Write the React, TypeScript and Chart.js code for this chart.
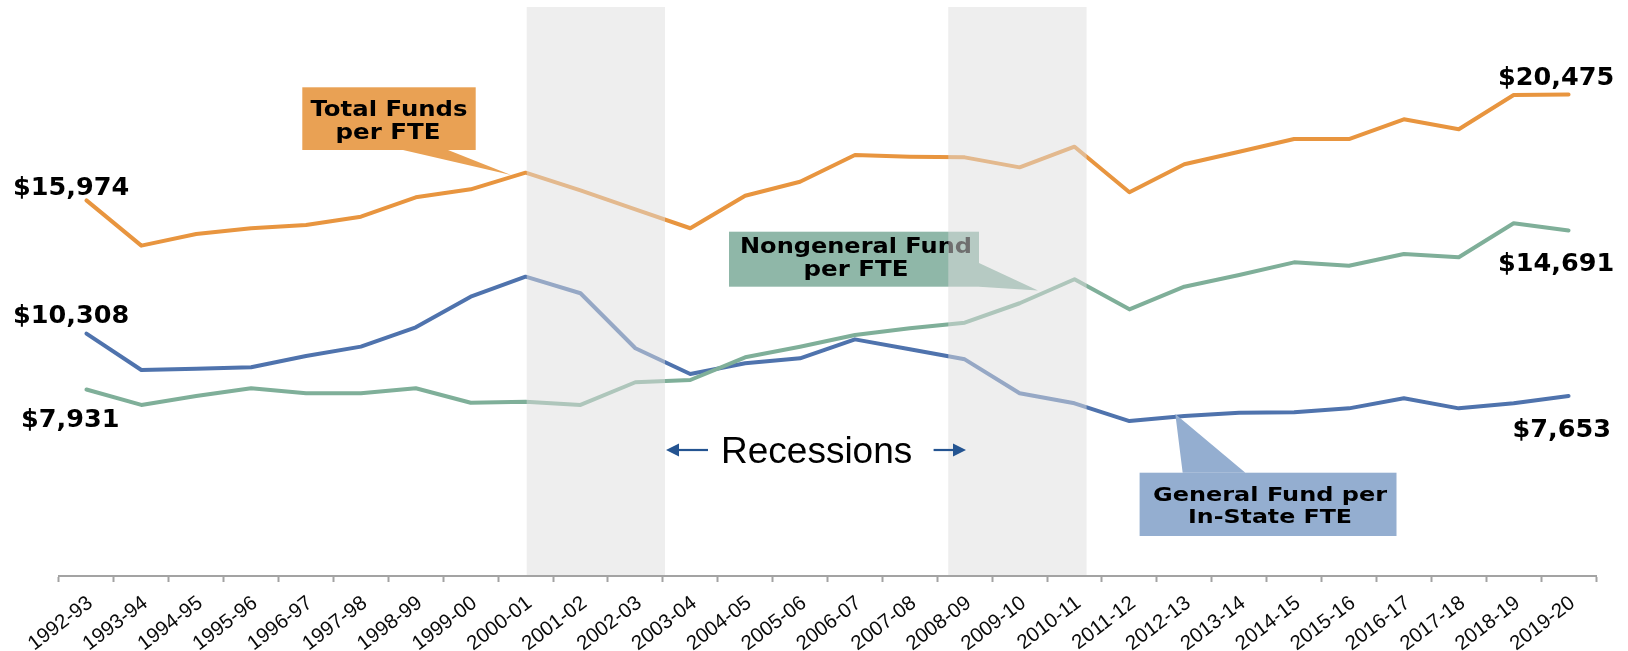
import React, { useEffect, useRef } from "react";
import { Chart, registerables } from "chart.js";

Chart.register(...registerables);

const categories = [
  "1992-93", "1993-94", "1994-95", "1995-96", "1996-97", "1997-98", "1998-99",
  "1999-00", "2000-01", "2001-02", "2002-03", "2003-04", "2004-05", "2005-06",
  "2006-07", "2007-08", "2008-09", "2009-10", "2010-11", "2011-12", "2012-13",
  "2013-14", "2014-15", "2015-16", "2016-17", "2017-18", "2018-19", "2019-20",
];

const totalFundsPerFTE = [
  15974, 14050, 14545, 14790, 14930, 15280, 16105, 16445, 17155, 16400,
  15595, 14790, 16175, 16770, 17905, 17835, 17805, 17380, 18260, 16320,
  17510, 18045, 18585, 18585, 19425, 19000, 20455, 20475,
];

const nongeneralFundPerFTE = [
  7931, 7275, 7655, 7985, 7770, 7770, 7985, 7370, 7415, 7275,
  8240, 8335, 9300, 9750, 10250, 10535, 10775, 11600, 12620, 11340,
  12305, 12800, 13340, 13195, 13695, 13555, 15000, 14691,
];

const generalFundPerInStateFTE = [
  10308, 8760, 8815, 8875, 9355, 9755, 10575, 11880, 12730, 12025,
  9685, 8590, 9045, 9260, 10065, 9640, 9215, 7770, 7345, 6590,
  6805, 6945, 6960, 7130, 7560, 7130, 7345, 7653,
];

// recession shading, in category-index units (index i = centre of category i)
const recessionBands: [number, number][] = [
  [8.02, 10.54],
  [15.7, 18.22],
];

const seriesNames = ["Total Funds per FTE", "Nongeneral Fund per FTE", "General Fund per In-State FTE"];
const recessionText = "Recessions";

const Y_MIN = 0;
const Y_MAX = 24200;

const COLORS = {
  total: "#E8953F",
  nongeneral: "#7FAF99",
  general: "#4F73AD",
  totalBox: "#E9A154",
  nongeneralBox: "#8FB7A8",
  generalBox: "#94AED0",
  arrow: "#245491",
};

const BOLD_FONT = "'DejaVu Sans', 'Noto Sans', sans-serif";
const SANS_FONT = "'Liberation Sans', Arial, sans-serif";

function money(v: number) {
  return "$" + v.toLocaleString("en-US");
}

function drawText(
  ctx: CanvasRenderingContext2D,
  text: string,
  x: number,
  baseline: number,
  font: string,
  align: CanvasTextAlign,
  targetWidth?: number
) {
  ctx.save();
  ctx.font = font;
  ctx.textAlign = align;
  ctx.textBaseline = "alphabetic";
  const w = ctx.measureText(text).width;
  const sx = targetWidth ? targetWidth / w : 1;
  ctx.translate(x, baseline);
  ctx.scale(sx, 1);
  ctx.fillStyle = "#000";
  ctx.fillText(text, 0, 0);
  ctx.restore();
}

function drawCallout(
  ctx: CanvasRenderingContext2D,
  rect: [number, number, number, number],
  tail: [number, number][],
  fill: string,
  lines: { text: string; cx: number; baseline: number; width: number }[],
  fontSize: number
) {
  ctx.save();
  ctx.fillStyle = fill;
  ctx.fillRect(rect[0], rect[1], rect[2], rect[3]);
  ctx.beginPath();
  ctx.moveTo(tail[0][0], tail[0][1]);
  for (let i = 1; i < tail.length; i++) ctx.lineTo(tail[i][0], tail[i][1]);
  ctx.closePath();
  ctx.fill();
  ctx.restore();
  for (const l of lines) {
    drawText(ctx, l.text, l.cx, l.baseline, `bold ${fontSize}px ${BOLD_FONT}`, "center", l.width);
  }
}

function drawArrow(ctx: CanvasRenderingContext2D, from: number, to: number, y: number) {
  const dir = Math.sign(to - from);
  const head = 13;
  ctx.save();
  ctx.strokeStyle = COLORS.arrow;
  ctx.fillStyle = COLORS.arrow;
  ctx.lineWidth = 2.2;
  ctx.beginPath();
  ctx.moveTo(from, y);
  ctx.lineTo(to - dir * head, y);
  ctx.stroke();
  ctx.beginPath();
  ctx.moveTo(to, y);
  ctx.lineTo(to - dir * head, y - 6.5);
  ctx.lineTo(to - dir * head, y + 6.5);
  ctx.closePath();
  ctx.fill();
  ctx.restore();
}

const annotationPlugin = {
  id: "fteAnnotations",
  afterDatasetsDraw(chart: any) {
    const ctx: CanvasRenderingContext2D = chart.ctx;
    const xs = chart.scales.x;
    const ys = chart.scales.y;
    const area = chart.chartArea;
    const step = xs.getPixelForValue(1) - xs.getPixelForValue(0);
    const fx = (f: number) => xs.getPixelForValue(0) + f * step;

    // callout boxes
    drawCallout(
      ctx,
      [302.3, 87.3, 173.4, 62.7],
      [[403, 150], [448, 150], [511, 175]],
      COLORS.totalBox,
      [
        { text: "Total Funds", cx: 389, baseline: 116, width: 157 },
        { text: "per FTE", cx: 388, baseline: 138.5, width: 105 },
      ],
      21
    );
    drawCallout(
      ctx,
      [729, 231.7, 250, 55],
      [[979, 263], [979, 286.7], [1038, 290.5]],
      COLORS.nongeneralBox,
      [
        { text: "Nongeneral Fund", cx: 856, baseline: 252.7, width: 232 },
        { text: "per FTE", cx: 856, baseline: 276, width: 105 },
      ],
      22
    );
    drawCallout(
      ctx,
      [1139.6, 472.7, 256.9, 63.3],
      [[1175.3, 414], [1182.7, 472.7], [1245.4, 472.7]],
      COLORS.generalBox,
      [
        { text: "General Fund per", cx: 1270, baseline: 501, width: 234 },
        { text: "In-State FTE", cx: 1270, baseline: 522.7, width: 164 },
      ],
      20
    );

    // recession shading (semi-transparent overlay)
    ctx.save();
    ctx.fillStyle = "rgba(221,221,221,0.5)";
    for (const [a, b] of recessionBands) {
      const x0 = fx(a);
      const x1 = fx(b);
      ctx.fillRect(x0, area.top, x1 - x0, area.bottom - area.top - 1);
    }
    ctx.restore();

    // value labels
    const n = categories.length - 1;
    const vfont = `bold 25.5px ${BOLD_FONT}`;
    drawText(ctx, money(totalFundsPerFTE[0]), 13, ys.getPixelForValue(totalFundsPerFTE[0]) - 5.4, vfont, "left");
    drawText(ctx, money(generalFundPerInStateFTE[0]), 13, ys.getPixelForValue(generalFundPerInStateFTE[0]) - 10.6, vfont, "left");
    drawText(ctx, money(nongeneralFundPerFTE[0]), 21, ys.getPixelForValue(nongeneralFundPerFTE[0]) + 37, vfont, "left");
    drawText(ctx, money(totalFundsPerFTE[n]), 1498, ys.getPixelForValue(totalFundsPerFTE[n]) - 9.6, vfont, "left");
    drawText(ctx, money(nongeneralFundPerFTE[n]), 1498, ys.getPixelForValue(nongeneralFundPerFTE[n]) + 40, vfont, "left");
    drawText(ctx, money(generalFundPerInStateFTE[n]), 1512.6, ys.getPixelForValue(generalFundPerInStateFTE[n]) + 40.7, vfont, "left");

    // Recessions text and arrows
    drawText(ctx, recessionText, 721, 463.3, `37px ${SANS_FONT}`, "left");
    drawArrow(ctx, 708, fx(recessionBands[0][1]) + 1, 450);
    drawArrow(ctx, 933.6, 966, 450);
  },
};

export default function App() {
  const canvasRef = useRef<HTMLCanvasElement | null>(null);

  useEffect(() => {
    document.body.style.margin = "0";
    const canvas = canvasRef.current;
    if (!canvas) return;
    const chart = new Chart(canvas, {
      type: "line",
      data: {
        labels: categories,
        datasets: [
          {
            label: seriesNames[0],
            data: totalFundsPerFTE,
            borderColor: COLORS.total,
            borderWidth: 4,
            pointRadius: 0,
            tension: 0,
            borderJoinStyle: "round",
            borderCapStyle: "round",
          },
          {
            label: seriesNames[1],
            data: nongeneralFundPerFTE,
            borderColor: COLORS.nongeneral,
            borderWidth: 4,
            pointRadius: 0,
            tension: 0,
            borderJoinStyle: "round",
            borderCapStyle: "round",
          },
          {
            label: seriesNames[2],
            data: generalFundPerInStateFTE,
            borderColor: COLORS.general,
            borderWidth: 4,
            pointRadius: 0,
            tension: 0,
            borderJoinStyle: "round",
            borderCapStyle: "round",
          },
        ],
      },
      options: {
        responsive: false,
        animation: false,
        layout: { padding: { left: 59, right: 32, top: 7, bottom: 0 } },
        plugins: {
          legend: { display: false },
          tooltip: { enabled: false },
        },
        scales: {
          x: {
            offset: true,
            afterFit: (s: any) => {
              s.height = 75;
            },
            border: { display: true, color: "#a3a3a3", width: 2 },
            grid: {
              display: true,
              offset: true,
              drawOnChartArea: false,
              drawTicks: true,
              tickLength: 6,
              tickWidth: 2,
              tickColor: "#a3a3a3",
              color: "#a3a3a3",
            },
            ticks: {
              autoSkip: false,
              minRotation: 37.5,
              maxRotation: 37.5,
              padding: 9,
              labelOffset: 4,
              color: "#0a0a0a",
              font: { family: SANS_FONT, size: 20.5 },
            },
          },
          y: {
            display: false,
            min: Y_MIN,
            max: Y_MAX,
          },
        },
      },
      plugins: [annotationPlugin],
    });
    return () => chart.destroy();
  }, []);

  return (
    <div style={{ position: "fixed", left: 0, top: 0, width: 1628, height: 651, background: "#fff" }}>
      <canvas ref={canvasRef} width={1628} height={651} style={{ display: "block" }} />
    </div>
  );
}
